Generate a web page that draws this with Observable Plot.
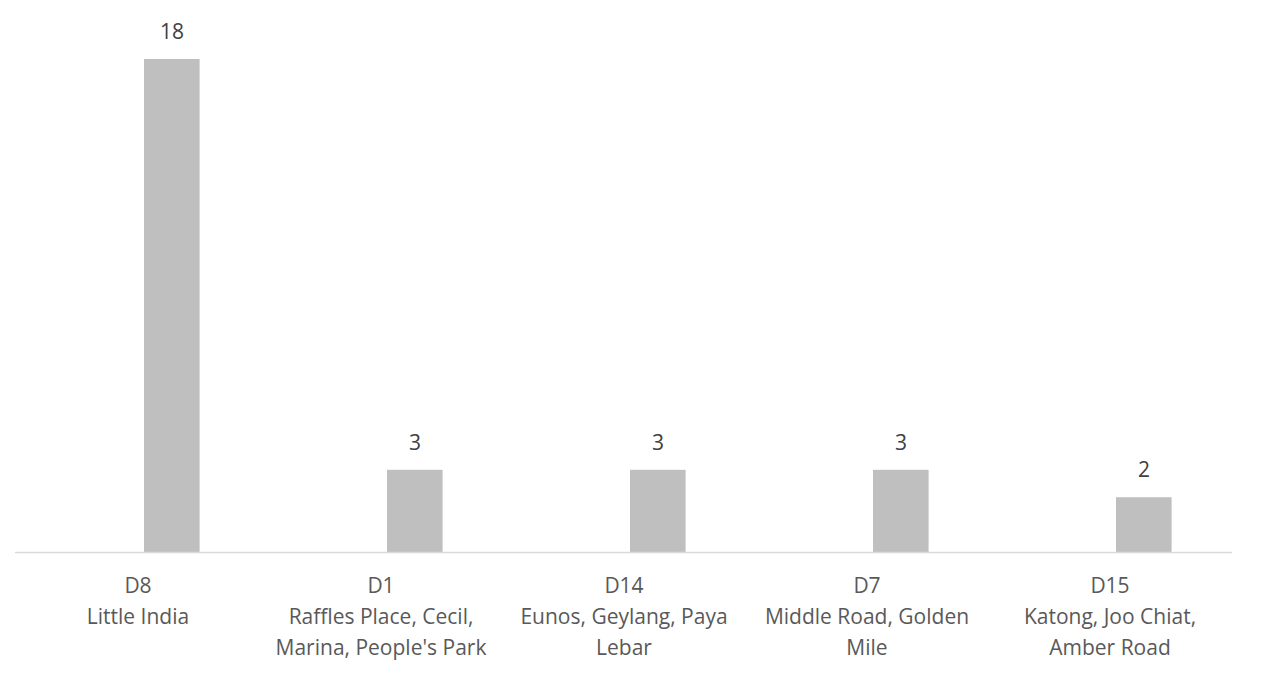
<!DOCTYPE html>
<html>
<head>
<meta charset="utf-8">
<script src="https://cdn.jsdelivr.net/npm/d3@7"></script>
<script src="https://cdn.jsdelivr.net/npm/@observablehq/plot@0.6"></script>
<style>
  html, body { margin: 0; padding: 0; background: #fff; }
</style>
</head>
<body>
<div id="chart"></div>
<script>
const districts = ["D8", "D1", "D14", "D7", "D15"];
const areaLines = [
  "Little India",
  "Raffles Place, Cecil,\nMarina, People's Park",
  "Eunos, Geylang, Paya\nLebar",
  "Middle Road, Golden\nMile",
  "Katong, Joo Chiat,\nAmber Road"
];
const counts = [18, 3, 3, 3, 2];

const data = districts.map((d, i) => ({district: d, area: areaLines[i], count: counts[i]}));
const labelOf = new Map(data.map(d => [d.district, d.district + "\n" + d.area]));

const chart = Plot.plot({
  width: 1267,
  height: 677,
  marginLeft: 15,
  marginRight: 35,
  marginTop: 59,
  marginBottom: 125,
  style: {fontFamily: "'Open Sans', Lato, sans-serif", background: "#fff"},
  x: {domain: districts, padding: 0, label: null},
  y: {domain: [0, 18], axis: null},
  marks: [
    Plot.barY(data, {x: "district", y: "count", fill: "#bfbfbf", insetLeft: 128, insetRight: 59.4}),
    Plot.ruleY([0], {stroke: "#d9d9d9", strokeWidth: 1.5}),
    Plot.text(data, {x: "district", y: "count", text: d => String(d.count), dx: 34, dy: -27,
      fill: "#404040", fontSize: 21, lineAnchor: "middle"}),
    Plot.axisX({tickSize: 0, tickPadding: 18, fontSize: 21, lineHeight: 1.48, fill: "#595959",
      tickFormat: d => labelOf.get(d), label: null})
  ]
});
document.getElementById("chart").appendChild(chart);
</script>
</body>
</html>
